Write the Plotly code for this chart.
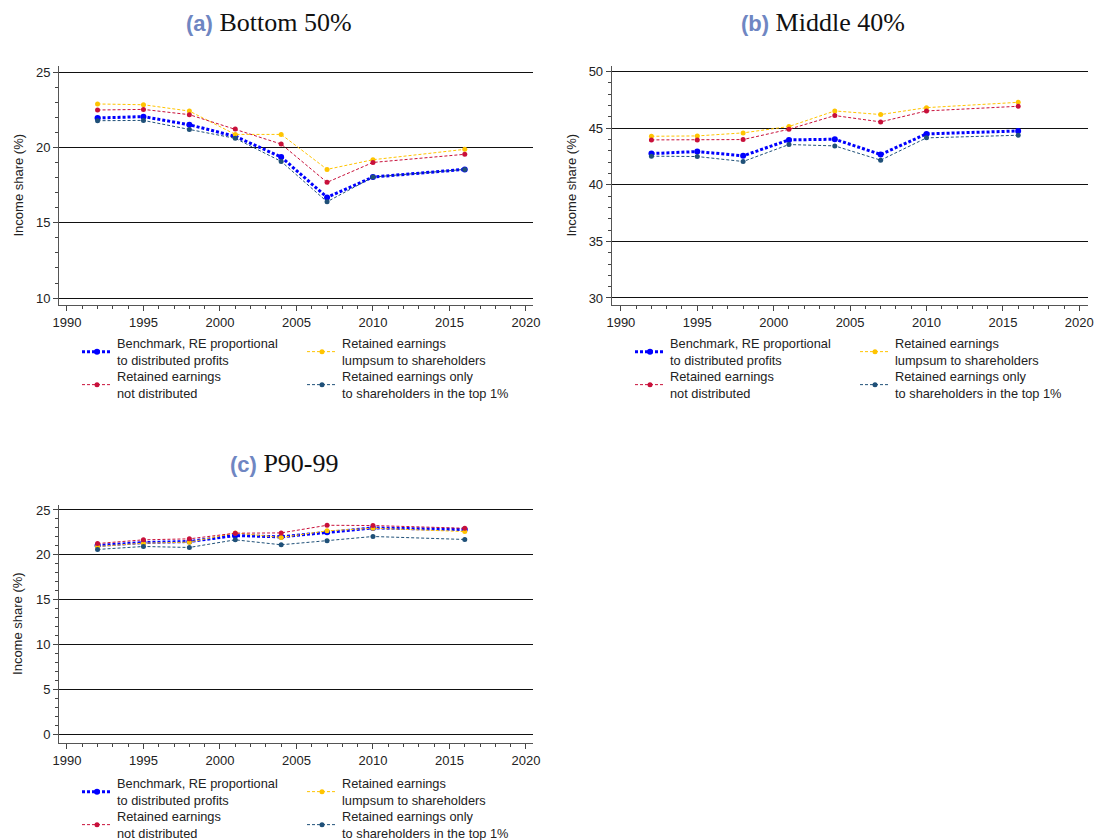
import plotly.graph_objects as go

# Survey years
years = [1992, 1995, 1998, 2001, 2004, 2007, 2010, 2016]

# Income shares (%) by scenario — (a) Bottom 50%
b50_benchmark = [21.95, 22.04, 21.50, 20.73, 19.36, 16.68, 18.03, 18.54]
b50_lumpsum = [22.88, 22.83, 22.41, 20.86, 20.86, 18.54, 19.18, 19.87]
b50_notdist = [22.48, 22.52, 22.17, 21.22, 20.22, 17.68, 19.00, 19.54]
b50_top1 = [21.77, 21.79, 21.19, 20.60, 19.07, 16.39, 18.03, 18.54]

# (b) Middle 40%
m40_benchmark = [42.76, 42.94, 42.56, 43.97, 44.03, 42.68, 44.50, 44.76]
m40_lumpsum = [44.29, 44.32, 44.59, 45.15, 46.53, 46.21, 46.82, 47.29]
m40_notdist = [43.97, 43.97, 44.00, 44.91, 46.12, 45.56, 46.53, 46.94]
m40_top1 = [42.53, 42.50, 42.06, 43.56, 43.44, 42.18, 44.15, 44.38]

# (c) P90-99
p90_benchmark = [21.05, 21.38, 21.49, 22.16, 22.01, 22.53, 23.00, 22.82]
p90_lumpsum = [20.94, 21.31, 21.42, 22.45, 21.94, 22.68, 22.97, 22.60]
p90_notdist = [21.27, 21.68, 21.79, 22.42, 22.45, 23.30, 23.27, 22.97]
p90_top1 = [20.61, 20.94, 20.83, 21.68, 21.13, 21.57, 22.05, 21.72]

series_names = [
    "Benchmark, RE proportional<br>to distributed profits",
    "Retained earnings<br>lumpsum to shareholders",
    "Retained earnings<br>not distributed",
    "Retained earnings only<br>to shareholders in the top 1%",
]
colors = ["#0000ff", "#ffc400", "#c8103a", "#1f5078"]
y_title = "Income share (%)"

W, H = 1097, 840


def px_x(v):
    return v / W


def px_y(v):
    return 1 - v / H


panels = [
    dict(key="", data=[b50_benchmark, b50_lumpsum, b50_notdist, b50_top1],
         xdom=[59, 533], ydom=[66, 305], xr=[1989.48, 2020.46], yr=[9.54, 25.4],
         yt=[10, 15, 20, 25], legends=("legend", "legend2"),
         leg_x=77, leg_y=(352, 385), ytitle_x=18,
         title=("(a)", "Bottom 50%"), title_xy=(269, 22)),
    dict(key="2", data=[m40_benchmark, m40_lumpsum, m40_notdist, m40_top1],
         xdom=[611.7, 1087.7], ydom=[66, 305], xr=[1989.4, 2020.55], yr=[29.38, 50.5],
         yt=[30, 35, 40, 45, 50], legends=("legend3", "legend4"),
         leg_x=630, leg_y=(352, 385), ytitle_x=571,
         title=("(b)", "Middle 40%"), title_xy=(823, 22)),
    dict(key="3", data=[p90_benchmark, p90_lumpsum, p90_notdist, p90_top1],
         xdom=[59, 533], ydom=[504.6, 743.3], xr=[1989.48, 2020.46], yr=[-0.96, 25.6],
         yt=[0, 5, 10, 15, 20, 25], legends=("legend5", "legend6"),
         leg_x=77, leg_y=(792, 825), ytitle_x=18,
         title=("(c)", "P90-99"), title_xy=(284, 463)),
]

fig = go.Figure()
layout = dict(width=W, height=H, margin=dict(l=0, r=0, t=0, b=0, autoexpand=False),
              paper_bgcolor="white", plot_bgcolor="white",
              font=dict(family="Liberation Sans, Arial, sans-serif", size=13, color="#222"))
annotations = []

tick_font = dict(family="Liberation Sans, Arial, sans-serif", size=13, color="#222")

for p in panels:
    k = p["key"]
    xa, ya = "x" + k, "y" + k
    # draw order: benchmark, lumpsum, not distributed, top 1%
    for i, (vals, name, col) in enumerate(zip(p["data"], series_names, colors)):
        if i == 0:
            line = dict(color=col, width=3, dash="3px,2px")
            msize = 6
        else:
            line = dict(color=col, width=1, dash="3px,2px")
            msize = 5
        leg = p["legends"][0] if i < 2 else p["legends"][1]
        fig.add_trace(go.Scatter(
            x=years, y=vals, mode="lines+markers", name=name,
            line=line, marker=dict(color=col, size=msize, symbol="circle"),
            xaxis=xa, yaxis=ya, legend=leg, showlegend=True,
        ))

    layout["xaxis" + k] = dict(
        domain=[px_x(p["xdom"][0]), px_x(p["xdom"][1])], range=p["xr"],
        anchor=ya, tickmode="array", tickvals=[1990, 1995, 2000, 2005, 2010, 2015, 2020],
        ticks="outside", ticklen=5, tickwidth=1, tickcolor="#444",
        showline=True, linecolor="#555", linewidth=1, showgrid=False, zeroline=False,
        tickfont=tick_font, automargin=False,
        minor=dict(ticks="outside", ticklen=3, tickwidth=1, tickcolor="#444",
                   dtick=1, tick0=1990, showgrid=False),
    )
    layout["yaxis" + k] = dict(
        domain=[px_y(p["ydom"][1]), px_y(p["ydom"][0])], range=p["yr"],
        anchor=xa, tickmode="array", tickvals=p["yt"],
        ticks="outside", ticklen=5, tickwidth=1, tickcolor="#444",
        showline=True, linecolor="#555", linewidth=1,
        showgrid=True, gridcolor="#111", gridwidth=1.2, zeroline=False,
        tickfont=tick_font, automargin=False,
        minor=dict(ticks="outside", ticklen=3, tickwidth=1, tickcolor="#444",
                   dtick=1, tick0=0, showgrid=False),
    )
    for j, lg in enumerate(p["legends"]):
        layout[lg] = dict(
            orientation="h", x=px_x(p["leg_x"]), xanchor="left",
            y=px_y(p["leg_y"][j]), yanchor="middle",
            entrywidth=180, entrywidthmode="pixels", itemwidth=30,
            bgcolor="rgba(0,0,0,0)", traceorder="normal",
            font=dict(family="Liberation Sans, Arial, sans-serif", size=12.8, color="#222"),
            itemclick=False, itemdoubleclick=False,
        )
    # vertical axis title
    annotations.append(dict(
        x=px_x(p["ytitle_x"]), y=px_y((p["ydom"][0] + p["ydom"][1]) / 2),
        xref="paper", yref="paper", xanchor="center", yanchor="middle",
        showarrow=False, textangle=-90, text=y_title, font=tick_font,
    ))
    lab, txt = p["title"]
    annotations.append(dict(
        x=px_x(p["title_xy"][0]), y=px_y(p["title_xy"][1]), xref="paper", yref="paper",
        xanchor="center", yanchor="middle", showarrow=False,
        text=(f'<span style="font-family:Liberation Sans, Arial, sans-serif;font-size:22px;'
              f'font-weight:bold;color:#6f86c2">{lab}</span> {txt}'),
        font=dict(family="Liberation Serif, Times New Roman, serif", size=26, color="#111"),
    ))

layout["annotations"] = annotations
fig.update_layout(**layout)
fig.write_html("out.html")
